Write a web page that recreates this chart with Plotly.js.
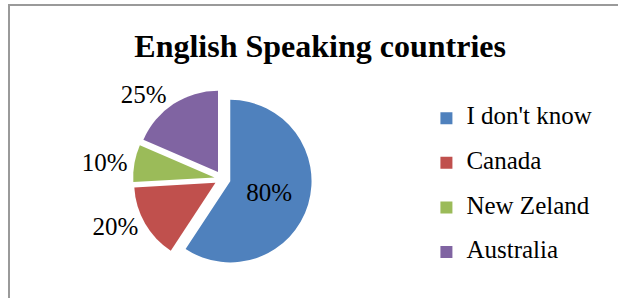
<!DOCTYPE html>
<html>
<head>
<meta charset="utf-8">
<script src="https://cdn.plot.ly/plotly-3.0.1.min.js"></script>
<style>
  html, body { margin: 0; padding: 0; background: #ffffff; }
  #chart { position: absolute; left: 0; top: 0; width: 618px; height: 298px; }
  #frame { position: absolute; left: 8px; top: 4px; width: 700px; height: 400px;
           border: 2px solid #9a9a9a; pointer-events: none; }
</style>
</head>
<body>
<div id="chart"></div>
<div id="frame"></div>
<script>
const categories = ["I don't know", "Canada", "New Zeland", "Australia"];
const values = [80, 20, 10, 25];
const colors = ["#4F81BD", "#C0504D", "#9BBB59", "#8064A2"];
const titleText = "English Speaking countries";

const serif = "Liberation Serif, Times New Roman, serif";

const trace = {
  type: "pie",
  labels: categories.map(c => "<span style='font-size:25px'>" + c + "</span><br> "),
  values: values,
  sort: false,
  direction: "clockwise",
  rotation: 0,
  marker: { colors: colors, line: { width: 0 } },
  pull: [0.1, 0.1, 0.1, 0.1],
  texttemplate: "%{value}%",
  textposition: ["inside", "outside", "outside", "outside"],
  insidetextorientation: "horizontal",
  textfont: { family: serif, size: 25, color: "#000000" },
  insidetextfont: { family: serif, size: 25, color: "#000000" },
  outsidetextfont: { family: serif, size: 25, color: "#000000" },
  domain: { x: [0.2, 0.52], y: [0.1, 0.7] },
  automargin: false,
  hoverinfo: "value"
};

const layout = {
  width: 618,
  height: 298,
  margin: { l: 0, r: 0, t: 0, b: 0 },
  paper_bgcolor: "#ffffff",
  plot_bgcolor: "#ffffff",
  title: {
    text: "<b>" + titleText + "</b>",
    font: { family: serif, size: 32, color: "#000000" },
    x: 0.518, xanchor: "center", xref: "paper",
    y: 0.845, yanchor: "middle", yref: "container"
  },
  showlegend: true,
  legend: {
    x: 0.69, xanchor: "left",
    y: 0.66, yanchor: "top",
    valign: "top",
    font: { family: serif, size: 16, color: "#000000" },
    bgcolor: "rgba(0,0,0,0)",
    traceorder: "normal"
  }
};

Plotly.newPlot("chart", [trace], layout, { displayModeBar: false, staticPlot: true });
</script>
</body>
</html>
